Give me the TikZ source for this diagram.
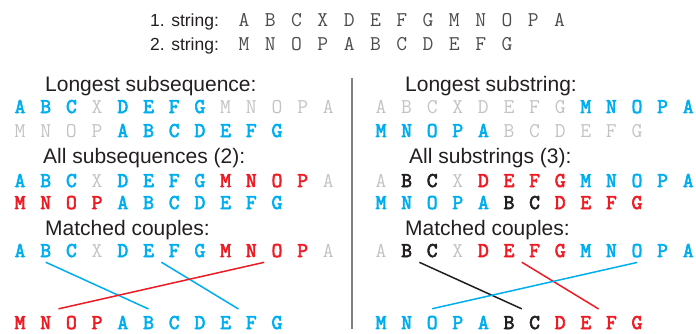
\documentclass[tikz,border=0pt]{standalone}
\usepackage{fontspec}
\setmainfont{Liberation Sans}
\newfontfamily\monobold{Latin Modern Mono}[FakeBold=3]
\usetikzlibrary{calc}

\definecolor{seqblue}{RGB}{0,174,239}
\definecolor{seqred}{RGB}{237,28,36}
\definecolor{seqgray}{RGB}{195,195,195}
\definecolor{seqtext}{RGB}{35,31,32}

\tikzset{
  let/.style={inner sep=0pt, anchor=base, font=\ttfamily\fontsize{21}{24}\selectfont},
  lb/.style={let, text=seqblue, font=\monobold\fontsize{21}{24}\selectfont},
  lr/.style={let, text=seqred, font=\monobold\fontsize{21}{24}\selectfont},
  lk/.style={let, text=seqtext, font=\monobold\fontsize{21}{24}\selectfont},
  lg/.style={let, text=seqgray},
  lt/.style={let, text=black!70},
  head/.style={inner sep=0pt, anchor=base west, text=seqtext, font=\fontsize{21}{24}\selectfont},
  toplabel/.style={inner sep=0pt, anchor=base west, text=seqtext, font=\fontsize{17.5}{20}\selectfont},
  couple/.style={line width=1.5pt}
}

% one row of letters: name, first x, step, baseline y, list of style/letter
\newcommand\seqrow[5]{%
  \foreach \st/\ch [count=\i] in {#5}
    \node[l\st] (#1-\i) at ({#2+#3*(\i-1)},#4) {\ch};
}

\begin{document}
\begin{tikzpicture}[x=1pt,y=-1pt]
\useasboundingbox (0,0) rectangle (696,333);

% the two strings
\node[toplabel] (s1) at (150,26) {1. string:};
\node[toplabel] (s2) at (150,50) {2. string:};
\seqrow{T1}{244}{26.3}{26}{t/A,t/B,t/C,t/X,t/D,t/E,t/F,t/G,t/M,t/N,t/O,t/P,t/A}
\seqrow{T2}{244}{26.3}{50}{t/M,t/N,t/O,t/P,t/A,t/B,t/C,t/D,t/E,t/F,t/G}

% separator
\draw[gray, line width=1.3pt] (352,78) coordinate (sep1) -- (352,329) coordinate (sep2);

% left: subsequences
\node[head] (hl1) at (45,91) {Longest subsequence:};
\seqrow{L1}{20}{25.7}{113}{b/A,b/B,b/C,g/X,b/D,b/E,b/F,b/G,g/M,g/N,g/O,g/P,g/A}
\seqrow{L2}{20}{25.7}{137}{g/M,g/N,g/O,g/P,b/A,b/B,b/C,b/D,b/E,b/F,b/G}
\node[head] (hl2) at (43,163) {All subsequences (2):};
\seqrow{L3}{20}{25.7}{187}{b/A,b/B,b/C,g/X,b/D,b/E,b/F,b/G,r/M,r/N,r/O,r/P,g/A}
\seqrow{L4}{20}{25.7}{209}{r/M,r/N,r/O,r/P,b/A,b/B,b/C,b/D,b/E,b/F,b/G}
\node[head] (hl3) at (45,235) {Matched couples:};
\seqrow{L5}{20}{25.7}{257}{b/A,b/B,b/C,g/X,b/D,b/E,b/F,b/G,r/M,r/N,r/O,r/P,g/A}
\seqrow{L6}{20}{25.7}{329}{r/M,r/N,r/O,r/P,b/A,b/B,b/C,b/D,b/E,b/F,b/G}

\coordinate (la1) at ($(L5-2.south)+(0,-5pt)$);
\coordinate (lb1) at ($(L6-6.north)+(0,7pt)$);
\coordinate (la2) at ($(L5-6.south)!.5!(L5-7.south)+(0,-5pt)$);
\coordinate (lb2) at ($(L6-9.north)!.5!(L6-10.north)+(0,7pt)$);
\coordinate (la3) at ($(L5-10.south)!.5!(L5-11.south)+(0,-5pt)$);
\coordinate (lb3) at ($(L6-2.north)!.5!(L6-3.north)+(0,7pt)$);
\draw[couple, seqblue] (la1) -- (lb1);
\draw[couple, seqblue] (la2) -- (lb2);
\draw[couple, seqred] (la3) -- (lb3);

% right: substrings
\node[head] (hr1) at (405,91) {Longest substring:};
\seqrow{R1}{381}{25.6}{113}{g/A,g/B,g/C,g/X,g/D,g/E,g/F,g/G,b/M,b/N,b/O,b/P,b/A}
\seqrow{R2}{381}{25.6}{137}{b/M,b/N,b/O,b/P,b/A,g/B,g/C,g/D,g/E,g/F,g/G}
\node[head] (hr2) at (409,163) {All substrings (3):};
\seqrow{R3}{381}{25.6}{187}{g/A,k/B,k/C,g/X,r/D,r/E,r/F,r/G,b/M,b/N,b/O,b/P,b/A}
\seqrow{R4}{381}{25.6}{209}{b/M,b/N,b/O,b/P,b/A,k/B,k/C,r/D,r/E,r/F,r/G}
\node[head] (hr3) at (405,235) {Matched couples:};
\seqrow{R5}{381}{25.6}{257}{g/A,k/B,k/C,g/X,r/D,r/E,r/F,r/G,b/M,b/N,b/O,b/P,b/A}
\seqrow{R6}{381}{25.6}{329}{b/M,b/N,b/O,b/P,b/A,k/B,k/C,r/D,r/E,r/F,r/G}

\coordinate (ra1) at ($(R5-2.south)!.5!(R5-3.south)+(0,-5pt)$);
\coordinate (rb1) at ($(R6-6.north)!.5!(R6-7.north)+(0,7pt)$);
\coordinate (ra2) at ($(R5-6.south)!.5!(R5-7.south)+(0,-5pt)$);
\coordinate (rb2) at ($(R6-9.north)!.5!(R6-10.north)+(0,7pt)$);
\coordinate (ra3) at ($(R5-11.south)+(0,-5pt)$);
\coordinate (rb3) at ($(R6-3.north)+(0,7pt)$);
\draw[couple, seqtext] (ra1) -- (rb1);
\draw[couple, seqred] (ra2) -- (rb2);
\draw[couple, seqblue] (ra3) -- (rb3);
\end{tikzpicture}
\end{document}
